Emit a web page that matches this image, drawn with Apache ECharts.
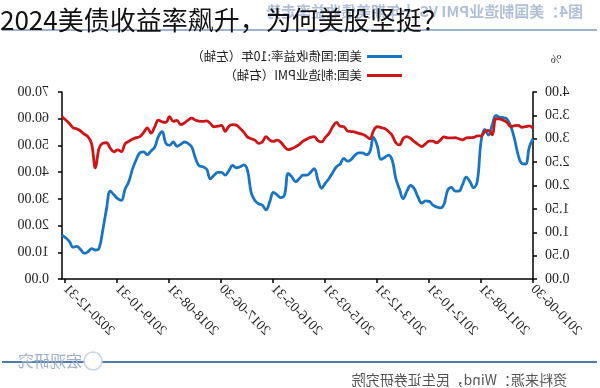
<!DOCTYPE html>
<html><head><meta charset="utf-8">
<script src="https://cdn.jsdelivr.net/npm/echarts@6/dist/echarts.min.js"></script>
<style>html,body{margin:0;padding:0;background:#fff;}#c{width:600px;height:388px;transform:scaleX(-1);}</style>
</head><body><div id="c"></div>
<script>
// Chart is shown mirrored (as in the reference picture)
const titleText = '2024美债收益率飙升，为何美股坚挺？';
const headerText = '图4：美国制造业PMI VS 十年期美债收益率走势';
const sourceText = '资料来源：Wind，民生证券研究院';
const seriesNames = ['美国:国债收益率:10年（左轴）', '美国:制造业PMI（右轴）'];
const xLabels = ['2010-06-30','2011-08-31','2012-10-31','2013-12-31','2015-03-31','2016-05-31','2017-06-30','2018-08-31','2019-10-31','2020-12-31'];
const leftTicks = [0,0.5,1,1.5,2,2.5,3,3.5,4];
const rightTicks = [0,10,20,30,40,50,60,70];

const yield10y = [
 3.00,2.82,2.46,2.47,2.65,3.00,3.27,3.42,3.45,3.46,
 3.50,3.30,3.08,3.20,2.95,2.10,1.95,2.08,2.18,2.02,
 1.88,1.88,1.96,1.90,1.60,1.52,1.54,1.58,1.66,1.67,
 1.62,1.75,1.93,2.00,1.88,1.72,1.92,2.15,2.55,2.65,
 2.60,2.56,2.85,3.03,2.72,2.66,2.70,2.70,2.65,2.56,
 2.52,2.58,2.46,2.40,2.28,2.15,2.05,1.94,2.12,2.36,
 2.28,2.22,2.22,2.15,2.08,2.18,2.26,1.80,1.74,1.80,
 1.85,1.65,1.48,1.58,1.61,1.68,1.85,2.33,2.44,2.40,
 2.38,2.43,2.32,2.22,2.28,2.28,2.22,2.14,2.35,2.40,
 2.42,2.58,2.82,2.90,2.93,2.88,2.84,2.93,2.86,2.90,
 3.15,3.05,2.82,2.74,2.66,2.72,2.70,2.55,2.35,2.08,
 1.92,1.68,1.72,1.80,1.88,1.50,1.05,0.66,0.62,0.65,
 0.58,0.55,0.63,0.70,0.68,0.80,0.88,0.94
];
const pmi = [
 56.4,57.3,57.0,56.8,57.5,57.4,57.0,58.6,59.4,59.9,
 60.0,54.0,55.6,55.2,53.5,53.6,53.0,52.9,52.8,52.1,
 52.5,52.9,52.8,52.8,53.2,52.0,51.0,51.6,51.6,50.6,
 49.6,50.4,51.4,52.6,53.3,52.6,50.2,51.0,53.8,55.3,
 56.3,56.7,57.0,55.5,52.5,53.5,54.2,54.5,55.0,55.2,
 55.4,57.0,57.2,58.6,57.0,54.5,53.0,51.3,51.8,53.3,
 53.0,52.4,51.6,50.4,49.5,48.8,48.4,49.5,51.2,52.0,
 51.5,52.0,53.3,51.3,50.8,52.0,52.5,53.2,55.0,56.4,
 57.6,57.8,57.2,55.3,57.5,57.2,57.0,58.2,59.2,59.0,
 59.1,59.4,60.2,59.5,58.4,57.8,59.4,59.0,60.8,58.6,
 58.8,59.5,57.0,54.6,56.6,54.8,53.3,52.9,52.3,51.5,
 50.6,47.7,48.3,47.6,49.0,51.0,50.8,49.0,41.6,50.5,
 53.3,54.2,55.4,56.2,56.6,58.2,59.5,60.8
];
const categories = yield10y.map((_, i) => String(i));
const step = 14;

const chart = echarts.init(document.getElementById('c'), null, {renderer:'canvas'});
const axisLine = {show:true, lineStyle:{color:'#000', width:1.5}};
const axisTick = {show:true, inside:false, length:4, lineStyle:{color:'#000', width:1.5}};
const lblFont = {fontFamily:'Liberation Serif', fontSize:14, color:'#222'};
const blue = '#1b74bf', red = '#cc1516';
chart.setOption({
  animation:false,
  backgroundColor:'#fff',
  grid:{left:67, right:62, top:92, bottom:109},
  legend:{orient:'vertical', left:193, top:45, itemWidth:35, itemHeight:3, itemGap:6, icon:'rect',
    textStyle:{fontSize:12.5, fontFamily:'Noto Sans CJK SC', color:'#222', lineHeight:13},
    data:seriesNames},
  xAxis:{type:'category', data:categories, boundaryGap:false, axisLine:axisLine,
    axisTick:Object.assign({}, axisTick, {interval:(i)=> i % step === 0}),
    axisLabel:Object.assign({interval:(i)=> i % step === 0, rotate:45, margin:8,
      formatter:(v, i)=> xLabels[Math.round(i/step)] || ''}, lblFont),
    splitLine:{show:false}},
  yAxis:[
    {type:'value', position:'left', min:leftTicks[0], max:leftTicks[leftTicks.length-1], interval:0.5,
     axisLine:axisLine, axisTick:axisTick, splitLine:{show:false},
     axisLabel:Object.assign({margin:12, formatter:(v)=> v.toFixed(2)}, lblFont)},
    {type:'value', position:'right', min:rightTicks[0], max:rightTicks[rightTicks.length-1], interval:10,
     axisLine:axisLine, axisTick:axisTick, splitLine:{show:false},
     axisLabel:Object.assign({margin:13, formatter:(v)=> v.toFixed(2)}, lblFont)}
  ],
  series:[
    {name:seriesNames[0], type:'line', yAxisIndex:0, data:yield10y, smooth:0.4, showSymbol:false,
     lineStyle:{color:blue, width:2.8}, itemStyle:{color:blue}},
    {name:seriesNames[1], type:'line', yAxisIndex:1, data:pmi, smooth:0.4, showSymbol:false,
     lineStyle:{color:red, width:2.8}, itemStyle:{color:red}}
  ],
  graphic:[
    {type:'text', x:17, y:11, z:10, style:{text:headerText, font:'bold 15px "Noto Sans CJK SC"', fill:'#b0c0d8', verticalAlign:'middle'}},
    {type:'line', z:10, shape:{x1:3, y1:30, x2:598, y2:30}, style:{stroke:'#7e9cc2', lineWidth:1.5}},
    {type:'text', x:44, y:60, z:10, style:{text:'%', font:'13px "Liberation Serif"', fill:'#333', textAlign:'center', verticalAlign:'middle'}},
    {type:'line', z:10, shape:{x1:3, y1:362, x2:598, y2:362}, style:{stroke:'#4f7cab', lineWidth:2}},
    {type:'circle', z:11, shape:{cx:507, cy:361, r:9}, style:{fill:'#fff', stroke:'#c8d4e4', lineWidth:1.5}},
    {type:'text', x:518, y:361, z:11, style:{text:'宏观研究', font:'16px "Noto Sans CJK SC"', fill:'#9fb0c8', verticalAlign:'middle'}},
    {type:'text', x:33, y:380, z:10, style:{text:sourceText, font:'14px "Noto Sans CJK SC"', fill:'#555', verticalAlign:'middle'}},
    {type:'text', x:600, y:20, scaleX:-1, z:100, style:{text:titleText, font:'26px "Noto Sans CJK SC"', fill:'#111', verticalAlign:'middle', textAlign:'left'}}
  ]
});
</script></body></html>
